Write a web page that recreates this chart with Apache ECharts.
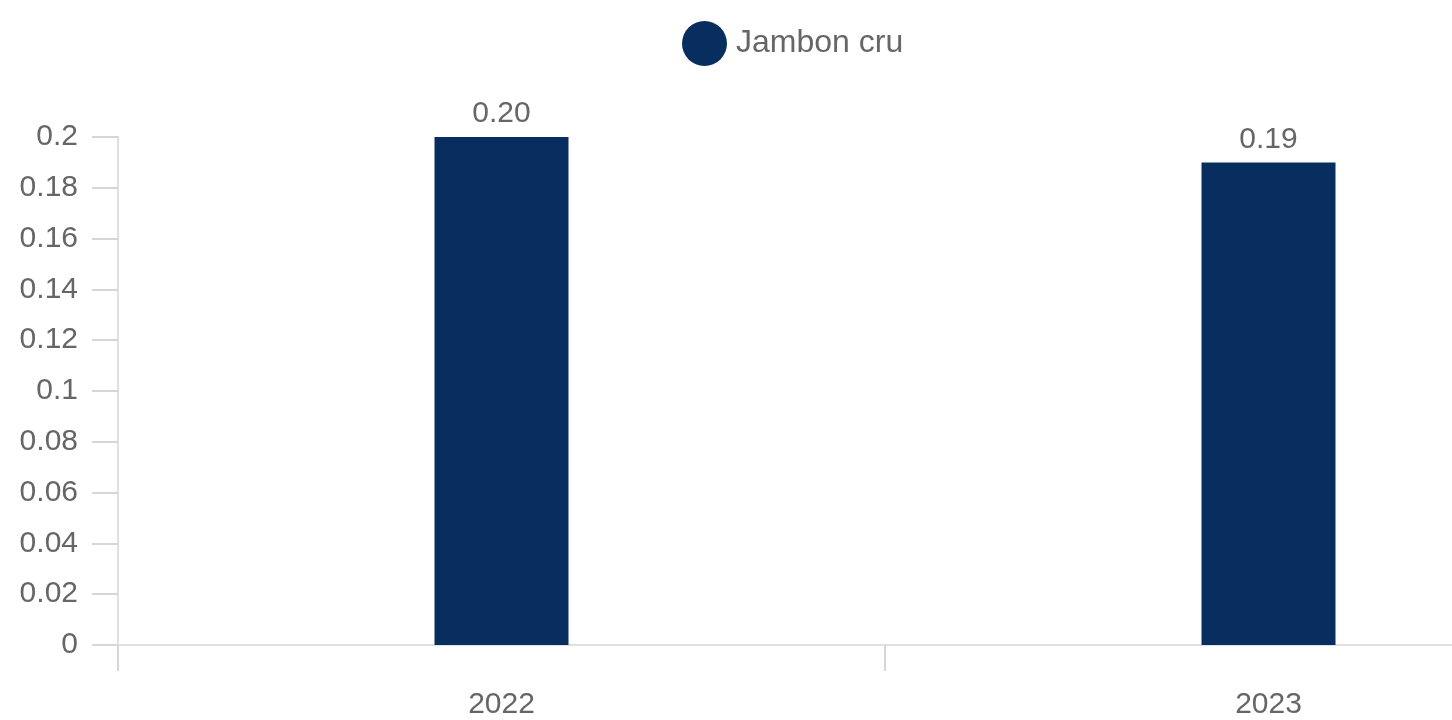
<!DOCTYPE html>
<html>
<head>
<meta charset="utf-8">
<script src="https://cdn.jsdelivr.net/npm/echarts@6/dist/echarts.min.js"></script>
<style>
  html, body { margin: 0; padding: 0; background: #fff; overflow: hidden; }
  /* the second category runs past the right edge in the reference */
  #chart { width: 1652px; height: 720px; }
</style>
</head>
<body>
<div id="chart"></div>
<script>
// Jambon cru, barres par année
const categories = ["2022", "2023"];
const seriesName = "Jambon cru";
const values = [0.20, 0.19];

const chart = echarts.init(document.getElementById("chart"));
const axisColor = "#e0e0e0";
const textColor = "#666";
const font = "'Liberation Sans', Arial, sans-serif";

const option = {
  animation: false,
  textStyle: { fontFamily: font },
  legend: {
    left: 677,
    top: 16,
    icon: "circle",
    itemWidth: 45,
    itemHeight: 45,
    textStyle: { color: textColor, fontSize: 32, fontFamily: font, padding: [0, 0, 0, 4] },
    data: [seriesName]
  },
  grid: {
    left: 118,
    right: 0,
    top: 137,
    bottom: 74
  },
  xAxis: {
    type: "category",
    data: categories,
    axisLine: { lineStyle: { color: axisColor, width: 2 } },
    axisTick: { show: true, length: 26, lineStyle: { color: "#d6d6d6", width: 2 } },
    axisLabel: { color: textColor, fontSize: 30, margin: 45, fontFamily: font }
  },
  yAxis: {
    type: "value",
    min: 0,
    max: 0.2,
    interval: 0.02,
    splitLine: { show: false },
    axisLine: { show: true, lineStyle: { color: axisColor, width: 2 } },
    axisTick: { show: true, length: 26, lineStyle: { color: "#d6d6d6", width: 2 } },
    axisLabel: { color: textColor, fontSize: 30, margin: 40, fontFamily: font }
  },
  series: [{
    name: seriesName,
    type: "bar",
    data: values,
    barWidth: 134,
    itemStyle: { color: "#072e5e" },
    label: {
      show: true,
      position: "top",
      distance: 8,
      color: textColor,
      fontSize: 30,
      fontFamily: font,
      formatter: p => p.value.toFixed(2)
    }
  }]
};

chart.setOption(option);
</script>
</body>
</html>
